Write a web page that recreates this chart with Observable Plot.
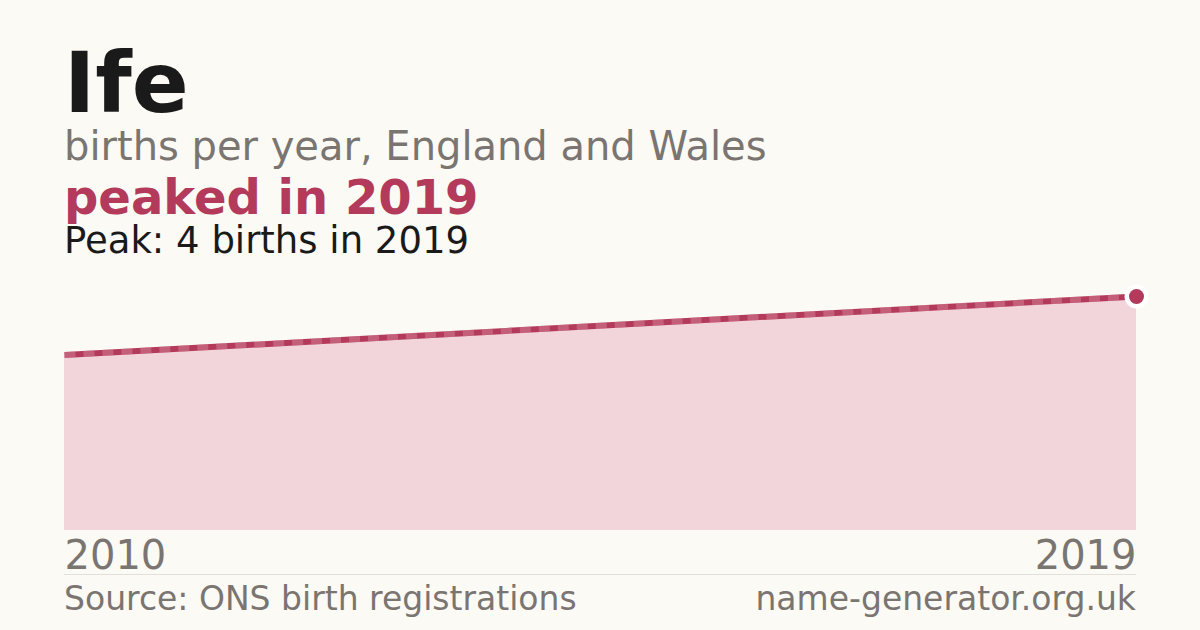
<!DOCTYPE html>
<html>
<head>
<meta charset="utf-8">
<script src="https://cdn.jsdelivr.net/npm/d3@7"></script>
<script src="https://cdn.jsdelivr.net/npm/@observablehq/plot@0.6"></script>
<style>
  html, body { margin: 0; padding: 0; }
  body { width: 1200px; height: 630px; background: #fbfaf5; position: relative; overflow: hidden;
         font-family: "DejaVu Sans", sans-serif; }
  .t { position: absolute; left: 64px; line-height: 1; white-space: nowrap; }
  #title { top: 41px; font-size: 84px; font-weight: bold; color: #1a1a1a; }
  #sub { top: 126px; font-size: 40px; color: #7a7570; }
  #hl { top: 173px; font-size: 48px; font-weight: bold; color: #b33a5a; }
  #peak { top: 222px; font-size: 37px; color: #1a1a1a; }
  #chart { position: absolute; left: 0; top: 280px; }
  #sep { position: absolute; left: 64px; top: 574px; width: 1072px; height: 1px; background: #e3e0da; }
  #foot { position: absolute; left: 64px; top: 582px; width: 1072px; display: flex; justify-content: space-between;
          font-size: 33px; line-height: 1; color: #7a7570; white-space: nowrap; }
</style>
</head>
<body>
<div class="t" id="title">Ife</div>
<div class="t" id="sub">births per year, England and Wales</div>
<div class="t" id="hl">peaked in 2019</div>
<div class="t" id="peak">Peak: 4 births in 2019</div>
<div id="chart"></div>
<div id="sep"></div>
<div id="foot"><span>Source: ONS birth registrations</span><span>name-generator.org.uk</span></div>
<script>
const years = [2010, 2019];
const births = [3, 4];
const data = years.map((y, i) => ({year: y, births: births[i]}));
const peak = data[data.length - 1];

const lineColor = "#b33a5a";
const plot = Plot.plot({
  width: 1200,
  height: 300,
  marginLeft: 64,
  marginRight: 64,
  marginTop: 16,
  marginBottom: 50,
  style: {background: "transparent", fontFamily: "DejaVu Sans, sans-serif"},
  x: {domain: [years[0], years[years.length - 1]], axis: null},
  y: {domain: [0, 4], axis: null},
  marks: [
    Plot.areaY(data, {x: "year", y: "births", fill: "#f2d5da"}),
    Plot.lineY(data, {x: "year", y: "births", stroke: lineColor, strokeWidth: 6, strokeLinecap: "butt"}),
    Plot.lineY(data, {x: "year", y: "births", stroke: "#d98ea2", strokeWidth: 6, strokeOpacity: 0.45, strokeLinecap: "butt", strokeDasharray: "11,8"}),
    Plot.dot([peak], {x: "year", y: "births", r: 12, fill: "#ffffff"}),
    Plot.dot([peak], {x: "year", y: "births", r: 7.5, fill: lineColor}),
    Plot.axisX({ticks: [years[0]], tickFormat: d => String(d), tickSize: 0, tickPadding: 10, textAnchor: "start", fontSize: 40, fill: "#7a7570", color: "#7a7570", label: null}),
    Plot.axisX({ticks: [years[years.length - 1]], tickFormat: d => String(d), tickSize: 0, tickPadding: 10, textAnchor: "end", fontSize: 40, fill: "#7a7570", color: "#7a7570", label: null})
  ]
});
document.getElementById("chart").appendChild(plot);
</script>
</body>
</html>
